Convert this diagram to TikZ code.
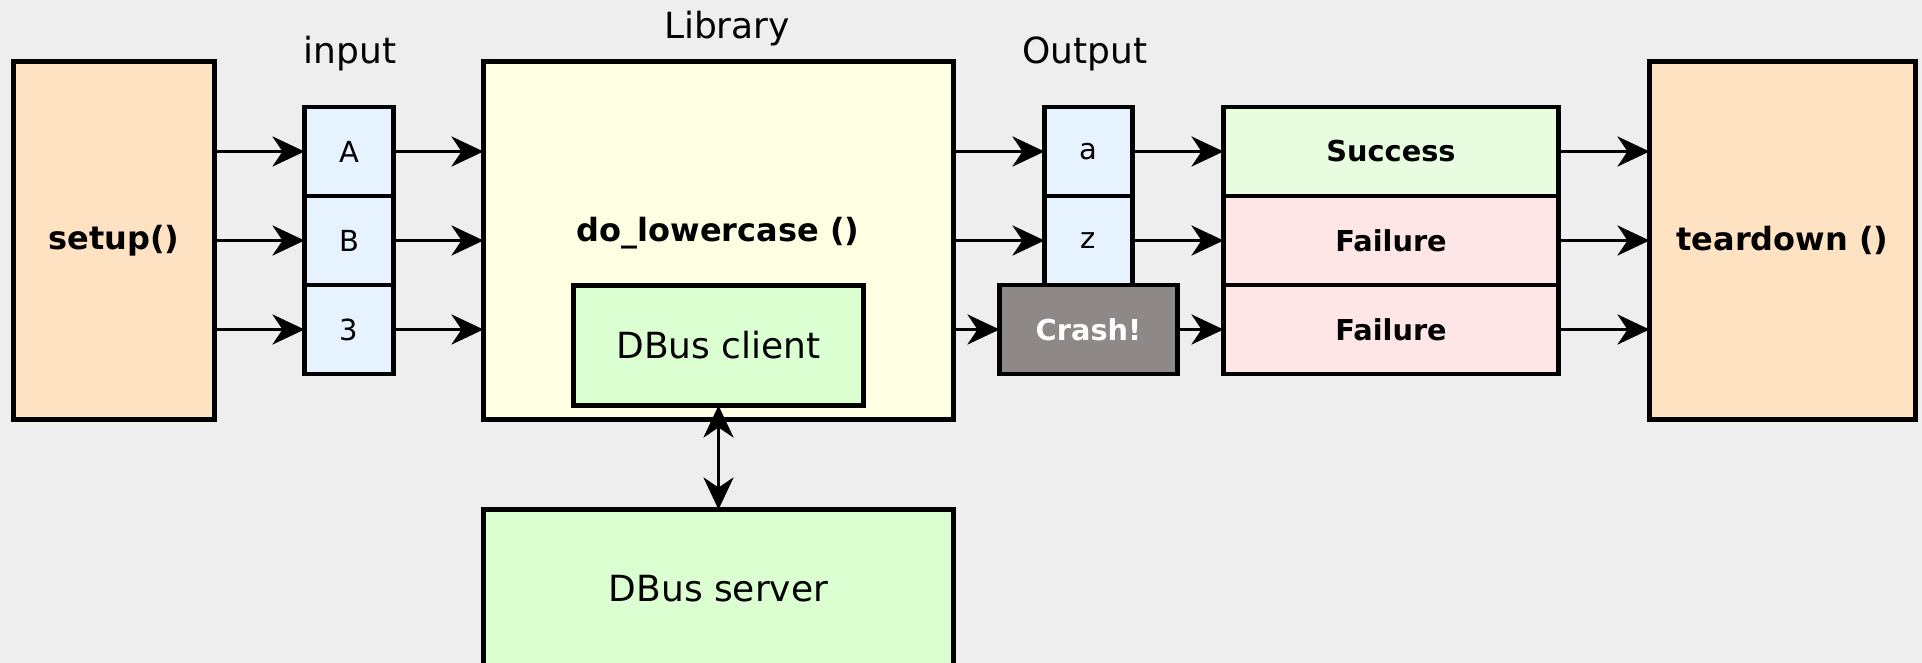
\documentclass[tikz,border=0pt]{standalone}
\usepackage{fontspec}
\setmainfont{DejaVu Sans}
\usetikzlibrary{arrows.meta}
\definecolor{bgc}{HTML}{EEEEEE}
\definecolor{peachc}{HTML}{FFE2C2}
\definecolor{libc}{HTML}{FFFFE4}
\definecolor{inc}{HTML}{E6F3FF}
\definecolor{dbusc}{HTML}{DCFFD2}
\definecolor{succc}{HTML}{E8FDE0}
\definecolor{failc}{HTML}{FFE6E6}
\definecolor{crashc}{HTML}{8E8888}
\newcommand\myFontBig{\fontsize{16}{19}\selectfont\bfseries}
\newcommand\myFontLbl{\fontsize{18}{21}\selectfont}
\newcommand\myFontRes{\fontsize{14.4}{17}\selectfont\bfseries}
\newcommand\myFontSmall{\fontsize{14.5}{17}\selectfont}
\begin{document}
\begin{tikzpicture}[x=0.5pt,y=-0.5pt,
  box/.style={draw=black, line width=2.1pt, inner sep=0pt, outer sep=0pt},
  cell/.style={box, fill=inc, minimum height=44.5pt, font=\myFontSmall},
  res/.style={box, minimum width=167.5pt, minimum height=44.5pt, font=\myFontRes},
  lbl/.style={font=\myFontLbl, inner sep=0pt},
  tipx/.tip={Stealth[length=16pt,width=15pt,inset=5pt]},
  conn/.style={line width=1.9pt, -tipx},
  dconn/.style={line width=1.9pt, tipx-tipx}]
\useasboundingbox (0,0) rectangle (1922,663);
\fill[bgc] (0,0) rectangle (1922,663);

% big boxes
\node[box, fill=peachc, minimum width=100.5pt, minimum height=179pt, font=\myFontBig] (setup) at (114,240.5) {setup()};
\node[box, fill=peachc, minimum width=133pt, minimum height=179pt, font=\myFontBig] (td) at (1782.5,240.5) {teardown ()};
\node[box, fill=libc, minimum width=235pt, minimum height=179pt] (lib) at (718.5,240.5) {};
\node[font=\myFontBig, inner sep=0pt] (dol) at (718,233) {do\_lowercase ()};
\node[box, fill=dbusc, minimum width=145pt, minimum height=60pt, font=\myFontLbl] (dbc) at (718.5,345.5) {DBus client};
\node[box, fill=dbusc, minimum width=235pt, minimum height=79.25pt, font=\myFontLbl] (dbs) at (718.5,588.75) {DBus server};

% input cells
\node[cell, minimum width=44.5pt] (iA) at (349,151.5) {A};
\node[cell, minimum width=44.5pt] (iB) at (349,240.5) {B};
\node[cell, minimum width=44.5pt] (i3) at (349,329.5) {3};

% output cells
\node[cell, minimum width=44pt] (oa) at (1088.5,151.5) {a};
\node[cell, minimum width=44pt] (oz) at (1088.5,240.5) {z};
\node[box, fill=crashc, text=white, minimum width=89pt, minimum height=44.5pt, font=\myFontRes] (crash) at (1088.5,329.5) {Crash!};

% results
\node[res, fill=succc] (rs) at (1391,151.5) {Success};
\node[res, fill=failc] (rf1) at (1391,240.5) {Failure};
\node[res, fill=failc] (rf2) at (1391,329.5) {Failure};

% labels
\node[lbl] (linput) at (350,54) {input};
\node[lbl] (llib) at (727,29) {Library};
\node[lbl] (lout) at (1085,54) {Output};

% connectors
\draw[conn] (setup.east |- iA.west) -- (iA.west);
\draw[conn] (setup.east |- iB.west) -- (iB.west);
\draw[conn] (setup.east |- i3.west) -- (i3.west);
\draw[conn] (iA.east) -- (lib.west |- iA.east);
\draw[conn] (iB.east) -- (lib.west |- iB.east);
\draw[conn] (i3.east) -- (lib.west |- i3.east);
\draw[conn] (lib.east |- oa.west) -- (oa.west);
\draw[conn] (lib.east |- oz.west) -- (oz.west);
\draw[conn] (lib.east |- crash.west) -- (crash.west);
\draw[conn] (oa.east) -- (rs.west);
\draw[conn] (oz.east) -- (rf1.west);
\draw[conn] (crash.east) -- (rf2.west);
\draw[conn] (rs.east) -- (td.west |- rs.east);
\draw[conn] (rf1.east) -- (td.west |- rf1.east);
\draw[conn] (rf2.east) -- (td.west |- rf2.east);
\draw[dconn] (dbc.south) -- (dbs.north);
\end{tikzpicture}
\end{document}
